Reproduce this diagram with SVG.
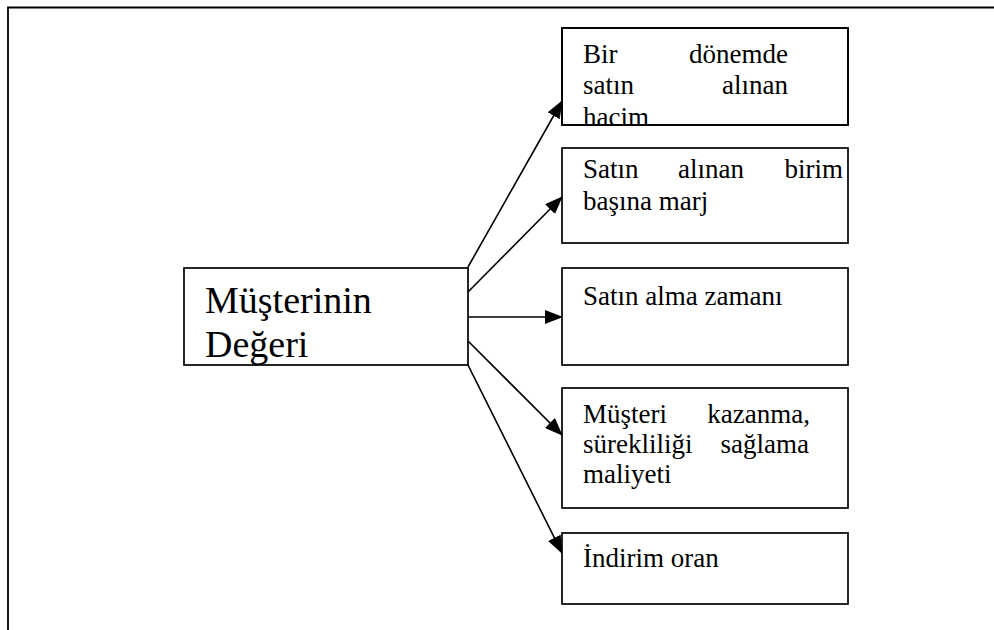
<svg xmlns="http://www.w3.org/2000/svg" width="994" height="630" viewBox="0 0 994 630">
<style>
.frame{fill:none;stroke:#000;stroke-width:1.8}
.box{fill:#fff;stroke:#000;stroke-width:1.7}
.t{font-family:"Liberation Serif","Times New Roman","DejaVu Serif",serif;font-size:27px;fill:#000}
.big{font-family:"Liberation Serif","Times New Roman","DejaVu Serif",serif;font-size:38px;fill:#000}
.conn{stroke:#000;stroke-width:1.6;fill:none;marker-end:url(#ah)}
</style>
<defs>
<marker id="ah" markerUnits="userSpaceOnUse" markerWidth="18" markerHeight="14" viewBox="0 0 18 14" refX="17" refY="7" orient="auto">
<path d="M0,0 L18,7 L0,14 z" fill="#000"/>
</marker>
<clipPath id="c1"><rect x="562" y="28" width="286" height="97"/></clipPath>
</defs>
<rect width="994" height="630" fill="#fff"/>
<path class="frame" d="M8,630 V7.5 H994"/>
<g id="connectors">
<line class="conn" x1="468" y1="267" x2="562" y2="101"/>
<line class="conn" x1="468" y1="292" x2="562" y2="197"/>
<line class="conn" x1="468" y1="317" x2="562" y2="317"/>
<line class="conn" x1="468" y1="341" x2="562" y2="435"/>
<line class="conn" x1="468" y1="365" x2="562" y2="553"/>
</g>
<g id="main">
<rect class="box" x="184" y="268" width="284" height="97"/>
<text class="big" x="205" y="313">Müşterinin</text>
<text class="big" x="205" y="357">Değeri</text>
</g>
<g id="n1">
<rect class="box" x="562" y="28" width="286" height="97"/>
<g clip-path="url(#c1)">
<text class="t" x="583" y="63">Bir</text>
<text class="t" x="788" y="63" text-anchor="end">dönemde</text>
<text class="t" x="583" y="94">satın</text>
<text class="t" x="788" y="94" text-anchor="end">alınan</text>
<text class="t" x="583" y="126">hacim</text>
</g>
<rect x="562" y="28" width="286" height="97" fill="none" stroke="#000" stroke-width="1.7"/>
</g>
<g id="n2">
<rect class="box" x="562" y="148" width="286" height="95"/>
<text class="t" x="583" y="178">Satın</text>
<text class="t" x="678" y="178">alınan</text>
<text class="t" x="843" y="178" text-anchor="end">birim</text>
<text class="t" x="583" y="210">başına marj</text>
</g>
<g id="n3">
<rect class="box" x="562" y="268" width="286" height="97"/>
<text class="t" x="583" y="305">Satın alma zamanı</text>
</g>
<g id="n4">
<rect class="box" x="562" y="388" width="286" height="120"/>
<text class="t" x="583" y="423">Müşteri</text>
<text class="t" x="810" y="423" text-anchor="end">kazanma,</text>
<text class="t" x="583" y="453">sürekliliği</text>
<text class="t" x="809" y="453" text-anchor="end">sağlama</text>
<text class="t" x="583" y="483">maliyeti</text>
</g>
<g id="n5">
<rect class="box" x="562" y="533" width="286" height="71"/>
<text class="t" x="583" y="567">İndirim oran</text>
</g>
</svg>
